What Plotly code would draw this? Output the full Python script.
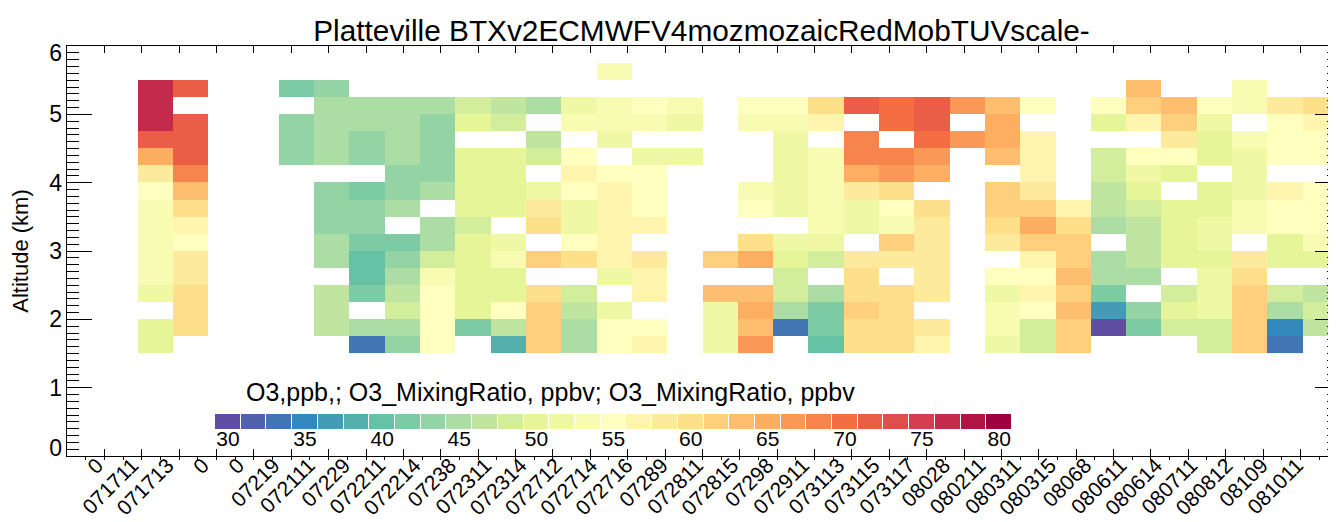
import plotly.graph_objects as go
import plotly.colors as pc

# ---------------- data ----------------
x_labels = ["0", "071711", "071713", "0", "0", "07219", "072111", "07229", "072211",
            "072214", "07238", "072311", "072314", "072712", "072714", "072716",
            "07289", "072811", "072815", "07298", "072911", "073113", "073115",
            "073117", "08028", "080211", "080311", "080315", "08068", "080611",
            "080614", "080711", "080812", "08109", "081011"]

# altitude bin centres (km), 0.25 km bins from 1.5 to 5.75
altitudes = [1.625, 1.875, 2.125, 2.375, 2.625, 2.875, 3.125, 3.375, 3.625,
             3.875, 4.125, 4.375, 4.625, 4.875, 5.125, 5.375, 5.625]

N = None
# O3 (ppb) per profile column, listed bottom (1.625 km) to top (5.625 km)
col00 = [N] * 17
col01 = [N] * 17
col02 = [50, 50, N, 51.7, 53.3, 53.3, 53.3, 53.3, 53.3, 55, 58.3, 65, 71.7, 76.7, 76.7, 76.7, N]
col03 = [N, 60, 60, 60, 58.3, 58.3, 55, 56.7, 60, 63.3, 68.3, 71.7, 71.7, 71.7, N, 71.7, N]
col04 = [N] * 17
col05 = [N] * 17
col06 = [N, N, N, N, N, N, N, N, N, N, N, 43.3, 43.3, 43.3, N, 41.7, N]
col07 = [N, 46.7, 46.7, 46.7, N, 45, 45, 43.3, 43.3, 43.3, N, 45, 45, 45, 45, 43.3, N]
col08 = [33.3, 45, N, 41.7, 40, 40, 41.7, 43.3, 43.3, 41.7, N, 43.3, 43.3, 45, 45, N, N]
col09 = [43.3, 45, 48.3, 46.7, 45, 43.3, 41.7, N, 45, 43.3, 43.3, 45, 45, 45, 45, N, N]
col10 = [55, 55, 55, 55, 53.3, 48.3, 45, 45, N, 45, 43.3, 43.3, 43.3, 43.3, 45, N, N]
col11 = [N, 41.7, 50, 50, 50, 50, 50, 48.3, 50, 50, 50, 50, N, 50, 48.3, N, N]
col12 = [38.3, 46.7, 55, 50, 50, 53.3, 51.7, N, 50, 50, 50, 50, N, 48.3, 46.7, N, N]
col13 = [61.7, 61.7, 61.7, 60, N, 61.7, N, 60, 58.3, 51.7, N, 48.3, 46.7, N, 45, N, N]
col14 = [45, 45, 46.7, 48.3, N, 60, 55, 51.7, 51.7, 55, 56.7, 55, N, 53.3, 51.7, N, N]
col15 = [55, 55, 51.7, N, 51.7, 56.7, 56.7, 56.7, 56.7, 56.7, 55, N, 51.7, 53.3, 53.3, N, 53.3]
col16 = [56.7, 55, N, 56.7, 56.7, 58.3, N, 56.7, 55, 55, 55, 51.7, N, 53.3, 55, N, N]
col17 = [N, N, N, N, N, N, N, N, N, N, N, 51.7, N, 51.7, 53.3, N, N]
col18 = [51.7, 51.7, 51.7, 63.3, N, 61.7, N, N, N, N, N, N, N, N, N, N, N]
col19 = [66.7, 63.3, 65, 63.3, N, 65, 60, N, 55, 53.3, N, N, N, 53.3, 55, N, N]
col20 = [N, 33.3, 45, 48.3, 48.3, 50, 51.7, N, 51.7, 51.7, 51.7, 51.7, 51.7, 53.3, 55, N, N]
col21 = [40, 41.7, 41.7, 45, N, 48.3, 51.7, 53.3, 53.3, 53.3, 53.3, 53.3, N, 56.7, 60, N, N]
col22 = [60, 60, 61.7, 60, 60, 58.3, N, 51.7, 51.7, 58.3, 65, 68.3, 68.3, N, 71.7, N, N]
col23 = [60, 60, 60, 60, N, 58.3, 61.7, 53.3, 55, 60, 66.7, 68.3, N, 70, 70, N, N]
col24 = [56.7, 58.3, N, 58.3, 58.3, 58.3, 58.3, 58.3, 60, N, 65, 66.7, 70, 71.7, 71.7, N, N]
col25 = [N, N, N, N, N, N, N, N, N, N, N, N, 66.7, N, 66.7, N, N]
col26 = [51.7, 53.3, 53.3, 51.7, 55, N, 58.3, 60, 61.7, 61.7, N, 63.3, 65, 65, 63.3, N, N]
col27 = [48.3, 48.3, 55, 56.7, 55, 56.7, 61.7, 65, 61.7, 58.3, 56.7, 56.7, 56.7, N, 55, N, N]
col28 = [61.7, 61.7, 63.3, 61.7, 63.3, 61.7, 61.7, 60, 56.7, N, N, N, N, N, N, N, N]
col29 = [N, 30, 36.7, 41.7, 45, 45, N, 45, 46.7, 46.7, 48.3, 48.3, N, 50, 55, N, N]
col30 = [N, 41.7, 43.3, N, 45, 46.7, 46.7, 46.7, 48.3, 50, 51.7, 55, N, 56.7, 61.7, 63.3, N]
col31 = [N, 48.3, 50, 48.3, N, 50, 50, 50, 50, N, 50, 55, 58.3, 61.7, 63.3, N, N]
col32 = [48.3, 48.3, 51.7, 51.7, 51.7, 50, 51.7, 51.7, 50, 50, N, 50, 50, 51.7, 55, N, N]
col33 = [61.7, 61.7, 61.7, 61.7, 60, 58.3, N, 53.3, 53.3, 51.7, 51.7, 51.7, 53.3, N, 53.3, 53.3, N]
col34 = [33.3, 35, 45, 48.3, N, 50, 50, 55, 55, 56.7, N, 55, 55, 55, 58.3, N, N]
col35 = [N, 46.7, 48.3, 46.7, N, 50, 53.3, 55, 55, 55, N, 55, 55, 56.7, 60, N, N]

columns = [col00, col01, col02, col03, col04, col05, col06, col07, col08, col09,
           col10, col11, col12, col13, col14, col15, col16, col17, col18, col19,
           col20, col21, col22, col23, col24, col25, col26, col27, col28, col29,
           col30, col31, col32, col33, col34, col35]

# colour-bar levels (31 discrete contour levels, ppb) and its tick labels
cbar_levels = [30.0, 31.67, 33.33, 35.0, 36.67, 38.33, 40.0, 41.67, 43.33, 45.0,
               46.67, 48.33, 50.0, 51.67, 53.33, 55.0, 56.67, 58.33, 60.0, 61.67,
               63.33, 65.0, 66.67, 68.33, 70.0, 71.67, 73.33, 75.0, 76.67, 78.33, 80.0]
cbar_ticks = [30, 35, 40, 45, 50, 55, 60, 65, 70, 75, 80]
y_tick_text = ["0", "1", "2", "3", "4", "5", "6"]

# ---------------- build ----------------
ncol = len(columns)
z = [[columns[c][r] for c in range(ncol)] for r in range(len(altitudes))]

nlev = len(cbar_levels)
half = (cbar_levels[1] - cbar_levels[0]) / 2
zmin, zmax = cbar_levels[0] - half, cbar_levels[-1] + half
base = list(reversed(pc.diverging.Spectral))
cols = pc.sample_colorscale(base, [k / (nlev - 1) for k in range(nlev)])
cscale = []
for k, c in enumerate(cols):
    cscale.append([k / nlev, c])
    cscale.append([(k + 1) / nlev, c])

FONT = "Liberation Sans, Arial, sans-serif"

# page body adds an 8 px offset, so the figure is placed at (8, 8)
OFF = 8
W, H = 1328, 514
ML, MR, MT, MB = 59, 0, 38, 66
plot_w = W - ML - MR
plot_h = H - MT - MB
col_px = 35.3
xmax = -0.5 + plot_w / col_px
tick_axis_max = 34 * (xmax + 0.5) / 36


def px_x(sx):
    return (sx - OFF - ML) / plot_w


def px_y(sy):
    return (H - MB - (sy - OFF)) / plot_h


fig = go.Figure()
fig.add_trace(go.Heatmap(
    z=z, x=list(range(ncol)), y=altitudes,
    colorscale=cscale, zmin=zmin, zmax=zmax,
    hoverongaps=False, showscale=False,
))

# horizontal colour bar drawn as a one-row heatmap on its own small axes
fig.add_trace(go.Heatmap(
    z=[cbar_levels], x=cbar_levels, y=[0],
    colorscale=cscale, zmin=zmin, zmax=zmax,
    xgap=1, showscale=False, hoverinfo="skip",
    xaxis="x4", yaxis="y4",
))

fig.add_annotation(
    text="O3,ppb,; O3_MixingRatio, ppbv; O3_MixingRatio, ppbv",
    xref="paper", yref="paper", x=px_x(244), y=px_y(392),
    xanchor="left", yanchor="middle", showarrow=False,
    font=dict(family=FONT, size=25, color="black"))

cb_x0 = px_x(215)
cb_x1 = px_x(1012)
cb_y0 = px_y(429)
cb_y1 = px_y(414)

fig.update_layout(
    width=W, height=H,
    margin=dict(l=ML, r=MR, t=MT, b=MB, autoexpand=False),
    paper_bgcolor="white", plot_bgcolor="rgba(0,0,0,0)",
    font=dict(family=FONT, color="black"),
    title=dict(text="Platteville BTXv2ECMWFV4mozmozaicRedMobTUVscale-",
               x=0.5, xref="paper", xanchor="center",
               y=1 - (31 - OFF) / H, yref="container", yanchor="middle",
               font=dict(family=FONT, size=29.8, color="black")),
    xaxis=dict(range=[-0.5, xmax], tickmode="array",
               tickvals=[i + 0.35 for i in range(len(x_labels))],
               ticktext=x_labels, tickangle=-45, ticks="",
               anchor="free", position=8 / plot_h,
               tickfont=dict(family=FONT, size=21, color="black"),
               showgrid=False, zeroline=False, showline=False),
    xaxis2=dict(overlaying="x", anchor="y", side="bottom",
                range=[0, tick_axis_max], tickmode="linear", tick0=0, dtick=1,
                ticks="inside", ticklen=7, tickcolor="black", tickwidth=1,
                minor=dict(dtick=0.5, ticks="outside", ticklen=3, tickcolor="black"),
                showticklabels=False, showgrid=False, zeroline=False,
                showline=True, linecolor="black", linewidth=1),
    xaxis3=dict(overlaying="x", anchor="y", side="top",
                range=[0, tick_axis_max], tickmode="linear", tick0=0, dtick=1,
                ticks="inside", ticklen=7, tickcolor="black", tickwidth=1,
                showticklabels=False, showgrid=False, zeroline=False,
                showline=True, linecolor="black", linewidth=1),
    xaxis4=dict(domain=[cb_x0, cb_x1], anchor="y4", range=[zmin, zmax],
                tickmode="array", tickvals=cbar_ticks, ticks="",
                ticklabelstandoff=-5,
                tickfont=dict(family=FONT, size=21, color="black"),
                showgrid=False, zeroline=False, showline=False, fixedrange=True),
    yaxis4=dict(domain=[cb_y0, cb_y1], anchor="x4", range=[-0.5, 0.5],
                visible=False, fixedrange=True),
    yaxis=dict(range=[0, 6], tickmode="linear", tick0=0, dtick=1,
               ticks="inside", ticklen=25, tickcolor="black", tickwidth=1,
               minor=dict(dtick=0.1, ticks="inside", ticklen=12, tickcolor="black"),
               showticklabels=False, showgrid=False, zeroline=False,
               showline=True, linecolor="black", linewidth=1),
    yaxis2=dict(overlaying="y", side="left", anchor="x", range=[0, 6],
                tickmode="array", tickvals=[0.117, 1, 2, 3, 4, 5, 5.9],
                ticktext=y_tick_text, ticks="", ticklabelstandoff=4,
                tickfont=dict(family=FONT, size=23, color="black"),
                title=dict(text="Altitude (km)", standoff=16,
                           font=dict(family=FONT, size=22, color="black")),
                showgrid=False, zeroline=False, showline=False),
    yaxis3=dict(overlaying="y", side="right", anchor="x", range=[0, 6],
                tickmode="linear", tick0=0, dtick=1,
                ticks="inside", ticklen=21, tickcolor="black", tickwidth=1,
                minor=dict(dtick=0.1, ticks="inside", ticklen=9, tickcolor="black"),
                showticklabels=False, showgrid=False, zeroline=False,
                showline=True, linecolor="black", linewidth=1),
)

# invisible traces to activate the overlay axes
for xa, ya in [("x2", "y"), ("x3", "y"), ("x", "y2"), ("x", "y3")]:
    fig.add_trace(go.Scatter(x=[None], y=[None], xaxis=xa, yaxis=ya,
                             showlegend=False, hoverinfo="skip"))

fig.write_html("out.html")
